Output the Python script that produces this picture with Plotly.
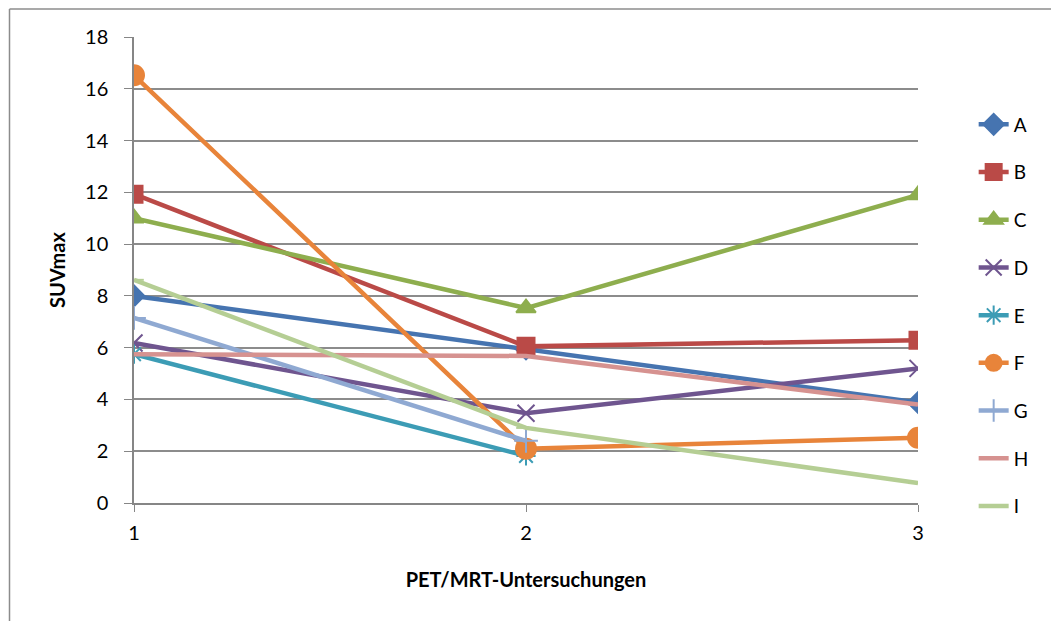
import plotly.graph_objects as go

x_vals = [1, 2, 3]
series_names = ["A", "B", "C", "D", "E", "F", "G", "H", "I"]
A = [8.0, 5.95, 3.88]
B = [11.93, 6.05, 6.29]
C = [11.0, 7.53, 11.9]
D = [6.18, 3.47, 5.2]
E = [5.75, 1.82]
F = [16.52, 2.1, 2.52]
G = [7.15, 2.4]
H = [5.75, 5.68, 3.8]
I = [8.62, 2.9, 0.77]
values = [A, B, C, D, E, F, G, H, I]

colors = ["#4674B0", "#BA4A47", "#8EAE4E", "#6F558F", "#3C9CB5",
          "#E8843A", "#8FA9D2", "#D69290", "#B5CE94"]
symbols = ["diamond", "square", "triangle-up", "x-thin-open", "asterisk-open",
           "circle", "cross-thin-open", "line-ew-open", "line-ew-open"]
msizes = [16, 17, 17, 17, 16, 20, 17, 14, 14]

font_family = "Lato, 'Open Sans', sans-serif"

fig = go.Figure()
for name, vals, col, sym, ms in zip(series_names, values, colors, symbols, msizes):
    fig.add_trace(go.Scatter(
        x=x_vals[:len(vals)], y=vals, name=name, mode="lines+markers",
        line=dict(color=col, width=4.5),
        marker=dict(symbol=sym, size=ms, color=col, line=dict(color=col, width=2)),
        legendgroup=name,
    ))

fig.update_layout(
    width=1059, height=621,
    margin=dict(l=126, r=149, t=29, b=126, autoexpand=False),
    paper_bgcolor="white", plot_bgcolor="white",
    font=dict(family=font_family, size=20, color="black"),
    showlegend=True,
    legend=dict(x=1.071, y=0.853, xanchor="left", yanchor="top",
                font=dict(size=19), tracegroupgap=20,
                bgcolor="rgba(0,0,0,0)"),
    xaxis=dict(range=[1, 3], tickvals=[1, 2, 3], ticktext=["1", "2", "3"],
               showgrid=False, showline=True, linecolor="#868686", linewidth=1.5,
               ticks="outside", ticklen=7, tickcolor="#868686", zeroline=False,
               ticklabelstandoff=4,
               title=dict(text="<b>PET/MRT-Untersuchungen</b>", font=dict(size=20), standoff=30)),
    yaxis=dict(range=[0, 18], dtick=2, showgrid=True, gridcolor="#8C8C8C", gridwidth=1.5,
               showline=True, linecolor="#868686", linewidth=1.5,
               ticks="outside", ticklen=8, tickcolor="#868686", zeroline=False,
               ticklabelstandoff=12,
               title=dict(text="<b>SUVmax</b>", font=dict(size=20), standoff=14)),
)

# outer chart border (partially visible)
bx = -124.5 / 784
by = 494 / 466
fig.add_shape(type="line", xref="paper", yref="paper",
              x0=bx, x1=1.3, y0=by, y1=by,
              line=dict(color="#8C8C8C", width=1.5))
fig.add_shape(type="line", xref="paper", yref="paper",
              x0=bx, x1=bx, y0=by, y1=-0.3,
              line=dict(color="#8C8C8C", width=1.5))

fig.write_html("out.html")
